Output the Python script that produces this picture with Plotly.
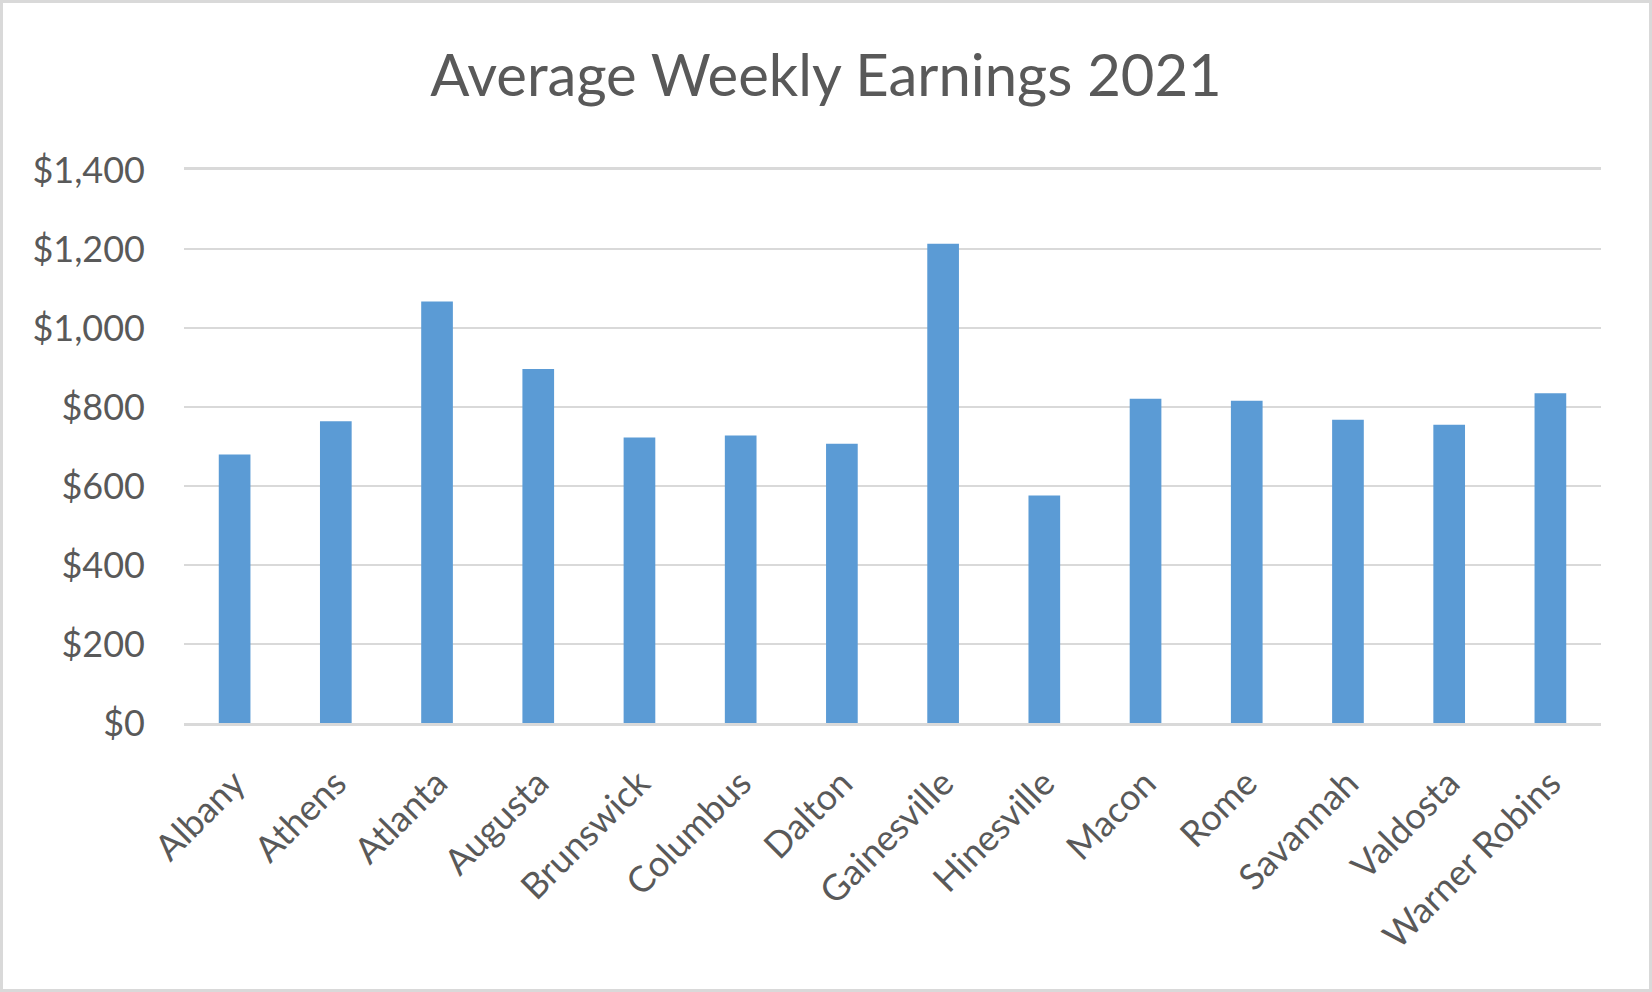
import plotly.graph_objects as go

cities = ["Albany", "Athens", "Atlanta", "Augusta", "Brunswick", "Columbus", "Dalton",
          "Gainesville", "Hinesville", "Macon", "Rome", "Savannah", "Valdosta", "Warner Robins"]
earnings = [680, 764, 1067, 896, 723, 728, 707, 1213, 576, 821, 816, 768, 755, 835]
y_ticks = [0, 200, 400, 600, 800, 1000, 1200, 1400]
y_tick_labels = ["${:,}".format(v) for v in y_ticks]

W, H = 1652, 992
ML, MR, MT, MB = 184, 51, 170, 269
TEXT = "#595959"
GRID = "#d9d9d9"
FONT = "Lato"

fig = go.Figure(go.Bar(x=cities, y=earnings, marker=dict(color="#5b9bd5", line=dict(width=0))))

pw = W - ML - MR
ph = H - MT - MB
fig.add_shape(type="rect", xref="paper", yref="paper",
              x0=-(ML - 1.5) / pw, x1=1 + (MR - 1.5) / pw,
              y0=-(MB - 1.5) / ph, y1=1 + (MT - 1.5) / ph,
              line=dict(color=GRID, width=3), fillcolor="rgba(0,0,0,0)", layer="below")

fig.update_layout(
    width=W, height=H,
    margin=dict(l=ML, r=MR, t=MT, b=MB, pad=0),
    paper_bgcolor="white", plot_bgcolor="white",
    bargap=0.687,
    showlegend=False,
    font=dict(family=FONT, color=TEXT),
    title=dict(text="Average Weekly Earnings 2021", x=0.5, xanchor="center",
               y=1 - 76 / H, yanchor="middle", yref="container",
               font=dict(family=FONT, size=58, color=TEXT)),
)
fig.update_yaxes(range=[0, 1400], tickvals=y_ticks, ticktext=y_tick_labels,
                 showgrid=True, gridcolor=GRID, gridwidth=2, zeroline=False, showline=False,
                 ticks="", ticklabelstandoff=38,
                 tickfont=dict(family=FONT, size=36, color=TEXT))
fig.update_xaxes(tickangle=-45, showline=True, mirror=True, linecolor=GRID, linewidth=2.5,
                 showgrid=False, ticks="", ticklabelstandoff=22,
                 tickfont=dict(family=FONT, size=36, color=TEXT))

fig.write_html("out.html", config={"displayModeBar": False},
               post_script="document.body.style.margin='0';document.body.style.overflow='hidden';")
